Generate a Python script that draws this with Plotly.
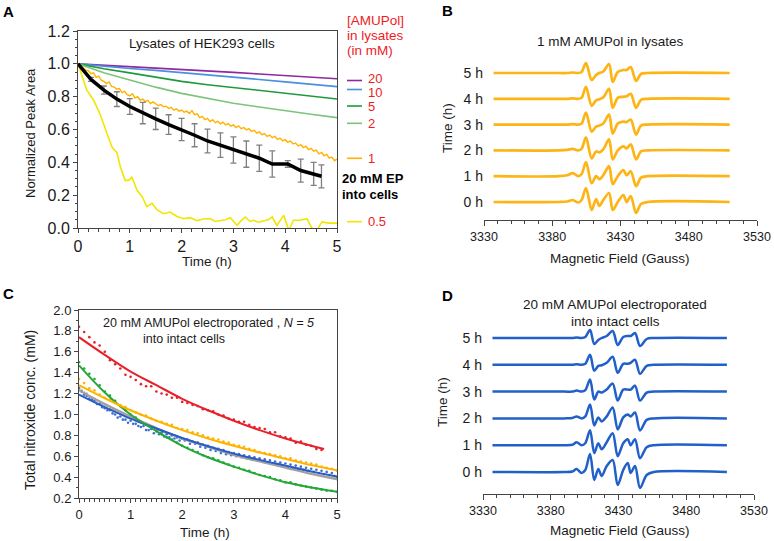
import numpy as np
import plotly.graph_objects as go

W, H = 774, 541
FONT = "Liberation Sans, Arial, sans-serif"

# ---------------- Panel A data (normalized peak area vs time) ----------------
T_HALF = [0, 0.5, 1.0, 1.5, 2.0, 2.5, 3.0, 3.5, 4.0, 4.5, 5.0]
A_20MM = [1.0, 0.992, 0.983, 0.975, 0.966, 0.957, 0.948, 0.938, 0.928, 0.918, 0.909]
A_10MM = [1.0, 0.985, 0.972, 0.960, 0.947, 0.934, 0.920, 0.905, 0.890, 0.876, 0.861]
A_5MM = [1.0, 0.970, 0.945, 0.918, 0.893, 0.873, 0.855, 0.836, 0.818, 0.802, 0.786]
A_2MM = [1.0, 0.945, 0.902, 0.858, 0.820, 0.792, 0.760, 0.737, 0.713, 0.693, 0.672]

T_1MM_STEP = 0.05
A_1MM = [1.000, 0.985, 0.975, 0.962, 0.958, 0.940, 0.945, 0.918, 0.925, 0.900,
         0.893, 0.880, 0.890, 0.862, 0.858, 0.845, 0.850, 0.825, 0.832, 0.812,
         0.805, 0.818, 0.792, 0.800, 0.778, 0.785, 0.770, 0.778, 0.758, 0.768,
         0.755, 0.745, 0.752, 0.738, 0.742, 0.728, 0.735, 0.718, 0.726, 0.712,
         0.718, 0.705, 0.712, 0.698, 0.715, 0.690, 0.695, 0.672, 0.680, 0.660,
         0.668, 0.648, 0.660, 0.642, 0.650, 0.635, 0.645, 0.628, 0.636, 0.620,
         0.628, 0.612, 0.622, 0.605, 0.612, 0.598, 0.605, 0.588, 0.595, 0.578,
         0.585, 0.568, 0.575, 0.558, 0.566, 0.550, 0.558, 0.540, 0.548, 0.530,
         0.538, 0.522, 0.530, 0.512, 0.518, 0.500, 0.508, 0.490, 0.498, 0.478,
         0.485, 0.468, 0.475, 0.452, 0.460, 0.440, 0.450, 0.425, 0.432, 0.410,
         0.420]

T_05MM = [0, 0.08, 0.17, 0.3, 0.43, 0.56, 0.66, 0.75, 0.82, 0.91, 0.98, 1.04, 1.14,
          1.24, 1.33, 1.43, 1.53, 1.65, 1.78, 1.91, 2.04, 2.17, 2.3, 2.42, 2.55,
          2.65, 2.75, 2.85, 2.94, 3.07, 3.15, 3.23, 3.32, 3.39, 3.48, 3.58, 3.67,
          3.75, 3.84, 3.97, 4.07, 4.16, 4.29, 4.42, 4.52, 4.61, 4.71, 4.84, 5.0]
A_05MM = [1.0, 0.92, 0.84, 0.78, 0.69, 0.575, 0.49, 0.46, 0.37, 0.29, 0.29, 0.31,
          0.23, 0.19, 0.13, 0.15, 0.11, 0.087, 0.097, 0.07, 0.057, 0.063, 0.045,
          0.055, 0.057, 0.04, 0.043, 0.05, 0.063, 0.016, 0.045, 0.067, 0.04,
          0.047, 0.035, 0.043, 0.05, 0.067, 0.016, 0.077, -0.014, 0.047, 0.047,
          0.057, -0.004, -0.014, 0.037, 0.03, 0.03]

T_EP = [0, 0.25, 0.5, 0.75, 1.0, 1.25, 1.5, 1.75, 2.0, 2.25, 2.5, 2.75, 3.0, 3.25,
        3.5, 3.75, 4.05, 4.3, 4.55, 4.7]
A_EP = [1.0, 0.905, 0.84, 0.785, 0.74, 0.70, 0.665, 0.63, 0.60, 0.565, 0.53, 0.505,
        0.475, 0.45, 0.425, 0.39, 0.39, 0.35, 0.33, 0.315]
A_EP_ERR = [0, 0.012, 0.025, 0.045, 0.048, 0.065, 0.065, 0.06, 0.068, 0.07, 0.072,
            0.075, 0.08, 0.08, 0.08, 0.08, 0.02, 0.07, 0.07, 0.07]

LEGEND_LABELS = ["20", "10", "5", "2", "1", "0.5"]

# ---------------- Panel B / D data (EPR spectra) ----------------
HOURS = [0, 1, 2, 3, 4, 5]
HOUR_LABELS = ["0 h", "1 h", "2 h", "3 h", "4 h", "5 h"]

FIELD_B = [3337, 3385, 3391, 3395, 3399, 3401.5, 3404.7, 3408.9, 3412.1, 3414.5,
           3417.4, 3421.6, 3424.3, 3428, 3432.1, 3434.5, 3437.5, 3441.4, 3445,
           3450, 3510]
SPEC_B = [
    [0, 0, 0.5, 2, -0.5, 2, 14, -8, 3, -4, 2, 9, -8, 0, 7, 0, 6, -11, -2, 0, 0],
    [0, 0, 1, 3, 0, 2, 14, -7, 0, -3, 1, 10, -8, 0, 6, 1, 5, -10, -1.5, 0, 0],
    [0, 0, 0.5, 1.5, 0, 1.5, 13, -8, -1, -2, 1, 11, -9, 0, 4, 2, 6, -9, -1, 0, 0],
    [0, 0, 0, 0.5, 0, 1, 12, -7, -2, -1, 1, 10, -9, 1, 3, 2.5, 5, -10, -1, 0, 0],
    [0, 0, 0, 0.5, 0, 1, 12, -7, -1.5, -0.5, 1.5, 10, -9, 1, 2, 2.5, 5, -9, -1, 0, 0],
    [0, 0, 0, 0.5, 0, 1, 10, -7, -2, 0, 1.5, 9, -9, 1, 3, 3, 6, -8, -1, 0, 0],
]
OFFSET_B = 25.8

FIELD_D = [3337, 3390, 3396, 3399.1, 3402.8, 3405.5, 3409.0, 3412.1, 3415.1, 3417.6,
           3421.3, 3425.7, 3429.4, 3433.5, 3436.8, 3439.0, 3442.2, 3445.9, 3450.8,
           3456, 3510]
SPEC_D = [
    [0, 0, 0.5, 3, -1, 2, 18, -8, 3, -4, 6, 12, -13, 2, 9, -1, 6, -16, -3, 0, 0],
    [0, 0, 0.5, 3, 0, 2, 15, -8, 2, -4, 3, 12, -11, 2, 6, 0, 6, -13, -2, 0, 0],
    [0, 0, 0.5, 2, 0, 2, 14, -7, 1, -3, 2, 11, -11, 1, 4, 2, 6, -12, -1.5, 0, 0],
    [0, 0, 0, 1, 0, 1.5, 12, -8, 0, -1, 2, 8, -9, 2, 2, 2, 6, -9, -1, 0, 0],
    [0, 0, 0, 0.5, 0, 1, 10, -6, -1, -0.5, 2, 8, -8, 1, 1, 2, 5, -9, -1, 0, 0],
    [0, 0, 0, 0.5, 0, 1, 8, -6, -2, 0, 2, 7, -7, 1, 2, 2, 5, -8, -1, 0, 0],
]
OFFSET_D = 26.8
FIELD_TICKS = [3330, 3380, 3430, 3480, 3530]

# ---------------- Panel C data (total nitroxide conc.) ----------------
T_FIT = [0, 0.5, 1.0, 1.5, 2.0, 2.5, 3.0, 3.5, 4.0, 4.5, 5.0]
T_FIT_RED = [0, 0.5, 1.0, 1.5, 2.0, 2.5, 3.0, 3.5, 4.0, 4.5, 4.75]
FIT_RED = [1.74, 1.57, 1.41, 1.28, 1.15, 1.04, 0.94, 0.85, 0.77, 0.70, 0.67]
FIT_ORANGE = [1.28, 1.155, 1.04, 0.94, 0.85, 0.77, 0.70, 0.635, 0.575, 0.515, 0.465]
FIT_GREEN = [1.47, 1.21, 1.00, 0.84, 0.70, 0.59, 0.50, 0.42, 0.35, 0.30, 0.26]
FIT_BLUE = [1.19, 1.07, 0.96, 0.865, 0.775, 0.695, 0.625, 0.565, 0.51, 0.455, 0.405]
FIT_GRAY = [1.23, 1.10, 0.98, 0.87, 0.77, 0.69, 0.61, 0.55, 0.49, 0.43, 0.38]

DOT_STEP_COARSE = 0.1
DOT_STEP_FINE = 0.05
DOTS_RED = [1.84, 1.79, 1.74, 1.69, 1.66, 1.60, 1.52, 1.48, 1.44, 1.38, 1.36, 1.33,
            1.29, 1.27, 1.27, 1.22, 1.20, 1.19, 1.16, 1.16, 1.12, 1.11, 1.09, 1.08,
            1.05, 1.04, 1.03, 1.00, 0.99, 0.96, 0.95, 0.93, 0.93, 0.90, 0.88, 0.87,
            0.86, 0.83, 0.83, 0.79, 0.78, 0.77, 0.73, 0.74, 0.71, 0.70, 0.67, 0.66]
DOTS_ORANGE = [1.34, 1.30, 1.25, 1.23, 1.19, 1.16, 1.14, 1.11, 1.09, 1.07, 1.04, 1.02,
               1.00, 0.99, 0.96, 0.94, 0.93, 0.91, 0.90, 0.87, 0.86, 0.85, 0.83, 0.82,
               0.80, 0.78, 0.77, 0.76, 0.74, 0.73, 0.71, 0.70, 0.69, 0.67, 0.66, 0.64,
               0.63, 0.62, 0.61, 0.60, 0.58, 0.58, 0.56, 0.55, 0.54, 0.53, 0.52, 0.50,
               0.49, 0.48, 0.46]
DOTS_GREEN = [1.50, 1.44, 1.39, 1.34, 1.28, 1.22, 1.18, 1.13, 1.08, 1.04, 1.00, 0.97,
              0.93, 0.90, 0.87, 0.84, 0.81, 0.78, 0.76, 0.73, 0.70, 0.68, 0.66, 0.64,
              0.61, 0.59, 0.58, 0.56, 0.54, 0.52, 0.50, 0.49, 0.47, 0.46, 0.44, 0.42,
              0.41, 0.40, 0.38, 0.37, 0.35, 0.35, 0.33, 0.32, 0.31, 0.30, 0.29, 0.28,
              0.27, 0.27, 0.26]
DOTS_BLUE = [1.25, 1.22, 1.19, 1.18, 1.15, 1.14, 1.13, 1.10, 1.10, 1.07,
             1.06, 1.04, 1.04, 1.01, 1.00, 0.97, 0.98, 0.95, 0.95, 0.92,
             0.94, 0.91, 0.91, 0.89, 0.88, 0.89, 0.85, 0.85, 0.86, 0.82,
             0.84, 0.81, 0.83, 0.79, 0.81, 0.78, 0.80, 0.77, 0.78, 0.75,
             0.77, 0.75, 0.76, 0.72, 0.74, 0.72, 0.73, 0.69, 0.71, 0.68,
             0.70, 0.66, 0.68, 0.65, 0.67, 0.63, 0.66, 0.62, 0.64, 0.61,
             0.63, 0.60, 0.62, 0.59, 0.61, 0.58, 0.60, 0.57, 0.59, 0.56,
             0.58, 0.55, 0.57, 0.54, 0.56, 0.53, 0.55, 0.52, 0.54, 0.51,
             0.53, 0.50, 0.52, 0.49, 0.51, 0.48, 0.50, 0.47, 0.49, 0.46,
             0.48, 0.45, 0.47, 0.44, 0.46, 0.43, 0.45, 0.42, 0.44, 0.41,
             0.40]
DOTS_GRAY = [1.26, 1.23, 1.21, 1.20, 1.17, 1.16, 1.15, 1.13, 1.12, 1.10,
             1.09, 1.08, 1.06, 1.05, 1.04, 1.02, 1.01, 1.00, 0.98, 0.97,
             0.96, 0.96, 0.94, 0.93, 0.92, 0.91, 0.91, 0.89, 0.88, 0.88,
             0.86, 0.85, 0.85, 0.83, 0.82, 0.82, 0.80, 0.80, 0.79, 0.78,
             0.77, 0.76, 0.76, 0.75, 0.74, 0.73, 0.73, 0.71, 0.71, 0.70,
             0.69, 0.68, 0.68, 0.67, 0.66, 0.65, 0.65, 0.64, 0.63, 0.63,
             0.62, 0.61, 0.61, 0.60, 0.59, 0.59, 0.58, 0.57, 0.57, 0.56,
             0.56, 0.55, 0.54, 0.54, 0.53, 0.53, 0.52, 0.51, 0.51, 0.50,
             0.50, 0.49, 0.49, 0.48, 0.47, 0.47, 0.46, 0.46, 0.45, 0.45,
             0.44, 0.44, 0.43, 0.42, 0.42, 0.41, 0.41, 0.40, 0.40, 0.39,
             0.38]

# ---------------- colours ----------------
C_PURPLE = "#8E2A9E"
C_BLUE_A = "#4B8FE0"
C_DGREEN = "#1E9A3C"
C_LGREEN = "#7DC47B"
C_ORANGE = "#FFB300"
C_YELLOW = "#F2E600"
C_RED = "#E8202A"
C_CGREEN = "#22A838"
C_CBLUE = "#2A5CC5"
C_CBLUE_DOT = "#3D6FD6"
C_GRAY = "#A0A0A0"
C_GRAY_DOT = "#B8B8B8"
C_SPEC_B = "#FDB415"
C_SPEC_D = "#2160C8"
C_LEG_TEXT = "#EE1C25"
AX = "#444444"


def px(x):
    return x / W


def py(y):
    return 1 - y / H


def grid(step, n):
    return [round(i * step, 3) for i in range(n)]


def axis(**kw):
    base = dict(showgrid=False, zeroline=False, showline=True, linecolor=AX, linewidth=1,
                ticks="outside", ticklen=4, tickcolor=AX, tickwidth=1, automargin=False)
    base.update(kw)
    return base


fig = go.Figure()

# ---- Panel A ----
for vals, col in [(A_20MM, C_PURPLE), (A_10MM, C_BLUE_A), (A_5MM, C_DGREEN), (A_2MM, C_LGREEN)]:
    fig.add_trace(go.Scatter(x=T_HALF, y=vals, mode="lines", line=dict(color=col, width=1.6),
                             xaxis="x", yaxis="y", hoverinfo="skip"))
fig.add_trace(go.Scatter(x=grid(T_1MM_STEP, len(A_1MM)), y=A_1MM, mode="lines",
                         line=dict(color=C_ORANGE, width=1.4), xaxis="x", yaxis="y"))
fig.add_trace(go.Scatter(x=T_05MM, y=A_05MM, mode="lines", line=dict(color=C_YELLOW, width=1.6),
                         xaxis="x", yaxis="y"))
fig.add_trace(go.Scatter(x=T_EP, y=A_EP, mode="markers", marker=dict(size=1, opacity=0),
                         error_y=dict(type="data", array=A_EP_ERR, color="#808080",
                                      thickness=1.3, width=3),
                         xaxis="x", yaxis="y"))
fig.add_trace(go.Scatter(x=T_EP, y=A_EP, mode="lines", line=dict(color="black", width=3.5),
                         xaxis="x", yaxis="y"))

# ---- Panel B ----
for h, amp in zip(HOURS, SPEC_B):
    fig.add_trace(go.Scatter(x=FIELD_B, y=[h * OFFSET_B + a for a in amp], mode="lines",
                             line=dict(color=C_SPEC_B, width=2.7, shape="spline", smoothing=0.9),
                             xaxis="x2", yaxis="y2"))

# ---- Panel C ----
for step, dots, col in [(DOT_STEP_FINE, DOTS_GRAY, C_GRAY_DOT),
                        (DOT_STEP_FINE, DOTS_BLUE, C_CBLUE_DOT),
                        (DOT_STEP_COARSE, DOTS_GREEN, C_CGREEN),
                        (DOT_STEP_COARSE, DOTS_ORANGE, C_ORANGE),
                        (DOT_STEP_COARSE, DOTS_RED, C_RED)]:
    fig.add_trace(go.Scatter(x=grid(step, len(dots)), y=dots, mode="markers",
                             marker=dict(color=col, size=2.6), xaxis="x3", yaxis="y3"))
for tt, vals, col in [(T_FIT, FIT_GRAY, C_GRAY), (T_FIT, FIT_BLUE, C_CBLUE),
                      (T_FIT, FIT_GREEN, C_CGREEN), (T_FIT, FIT_ORANGE, C_ORANGE),
                      (T_FIT_RED, FIT_RED, C_RED)]:
    fig.add_trace(go.Scatter(x=tt, y=vals, mode="lines",
                             line=dict(color=col, width=2, shape="spline"),
                             xaxis="x3", yaxis="y3"))

# ---- Panel D ----
for h, amp in zip(HOURS, SPEC_D):
    fig.add_trace(go.Scatter(x=FIELD_D, y=[h * OFFSET_D + a for a in amp], mode="lines",
                             line=dict(color=C_SPEC_D, width=2.5, shape="spline", smoothing=0.9),
                             xaxis="x4", yaxis="y4"))

layout = dict(
    width=W, height=H, margin=dict(l=0, r=0, t=0, b=0, autoexpand=False),
    paper_bgcolor="white", plot_bgcolor="white", showlegend=False,
    font=dict(family=FONT, color="#1a1a1a"),
    xaxis=axis(domain=[px(78), px(337)], range=[0, 5], anchor="y", mirror=True,
               dtick=1, tickfont=dict(size=16),
               minor=dict(ticks="outside", ticklen=2.5, dtick=0.2, tickcolor=AX)),
    yaxis=axis(domain=[py(228), py(31)], range=[0, 1.2], anchor="x", mirror=True,
               dtick=0.2, tickformat=".1f", tickfont=dict(size=16),
               minor=dict(ticks="outside", ticklen=2.5, dtick=0.05, tickcolor=AX)),
    xaxis2=axis(domain=[px(484), px(757)], range=[3330, 3530], anchor="y2",
                tickvals=FIELD_TICKS, tickfont=dict(size=12.5), ticklen=5,
                minor=dict(ticks="outside", ticklen=3, dtick=10, tickcolor=AX)),
    yaxis2=dict(domain=[py(220), py(55)], range=[-18, 147], anchor="x2", showgrid=False,
                zeroline=False, showline=False, ticks="", automargin=False,
                tickvals=[h * OFFSET_B for h in HOURS], ticktext=HOUR_LABELS,
                tickfont=dict(size=14)),
    xaxis3=axis(domain=[px(79), px(337)], range=[0, 5], anchor="y3", mirror=True,
                dtick=1, tickfont=dict(size=13),
                minor=dict(ticks="outside", ticklen=2.5, dtick=0.1, tickcolor=AX)),
    yaxis3=axis(domain=[py(498), py(310)], range=[0.2, 2.0], anchor="x3", mirror=True,
                dtick=0.2, tickformat=".1f", tickfont=dict(size=13),
                minor=dict(ticks="outside", ticklen=2.5, dtick=0.1, tickcolor=AX)),
    xaxis4=axis(domain=[px(483), px(754)], range=[3330, 3530], anchor="y4",
                tickvals=FIELD_TICKS, tickfont=dict(size=12.5), ticklen=5,
                minor=dict(ticks="outside", ticklen=3, dtick=10, tickcolor=AX)),
    yaxis4=dict(domain=[py(494), py(320)], range=[-22, 152], anchor="x4", showgrid=False,
                zeroline=False, showline=False, ticks="", automargin=False,
                tickvals=[h * OFFSET_D for h in HOURS], ticktext=HOUR_LABELS,
                tickfont=dict(size=14)),
)
fig.update_layout(**layout)


def ann(text, x, y, size, color="#1a1a1a", angle=0, xanchor="center", bold=False):
    if bold:
        text = "<b>" + text + "</b>"
    fig.add_annotation(text=text, x=px(x), y=py(y), xref="paper", yref="paper",
                       showarrow=False, xanchor=xanchor, yanchor="middle",
                       textangle=angle, font=dict(size=size, color=color, family=FONT))


# panel letters
ann("A", 8, 12, 15, "black", bold=True)
ann("B", 447, 10, 15, "black", bold=True)
ann("C", 8, 293, 15, "black", bold=True)
ann("D", 447, 295, 15, "black", bold=True)

# panel A texts
ann("Lysates of HEK293 cells", 202, 43, 13.5)
ann("Normalized Peak Area", 30, 133, 13, angle=-90)
ann("Time (h)", 207, 261, 13.5)
ann("[AMUPol]", 345, 20, 13.5, C_LEG_TEXT, xanchor="left")
ann("in lysates", 345, 35, 13.5, C_LEG_TEXT, xanchor="left")
ann("(in mM)", 345, 50, 13.5, C_LEG_TEXT, xanchor="left")
leg_line_y = [80.5, 89.5, 106, 123.3, 158.3, 221.7]
leg_text_y = [78.5, 92.5, 106, 123.3, 158.3, 221.7]
leg_col = [C_PURPLE, C_BLUE_A, C_DGREEN, C_LGREEN, C_ORANGE, C_YELLOW]
for lab, ly, ty, col in zip(LEGEND_LABELS, leg_line_y, leg_text_y, leg_col):
    fig.add_shape(type="line", xref="paper", yref="paper", x0=px(347), x1=px(362),
                  y0=py(ly), y1=py(ly), line=dict(color=col, width=1.6))
    ann(lab, 366, ty, 13, C_LEG_TEXT, xanchor="left")
ann("20 mM EP", 340, 179, 13, "black", xanchor="left", bold=True)
ann("into cells", 340, 194, 13, "black", xanchor="left", bold=True)

# panel B texts
ann("1 mM AMUPol in lysates", 610, 42, 13.5)
ann("Time (h)", 447, 128, 13.5, angle=-90)
ann("Magnetic Field (Gauss)", 620, 258, 13.5)

# panel C texts
ann("20 mM AMUPol electroporated , <i>N = 5</i>", 208, 323, 12.5)
ann("into intact cells", 184, 339, 12.5)
ann("Total nitroxide conc. (mM)", 30, 410, 14, angle=-90)
ann("Time (h)", 205, 532, 13.5)

# panel D texts
ann("20 mM AMUPol electroporated", 615, 304, 13.5)
ann("into intact cells", 615, 321, 13.5)
ann("Time (h)", 442, 402, 13.5, angle=-90)
ann("Magnetic Field (Gauss)", 620, 530, 13.5)

fig.write_html("out.html", config={"displayModeBar": False},
               post_script="document.body.style.margin='0px';document.body.style.padding='0px';")
